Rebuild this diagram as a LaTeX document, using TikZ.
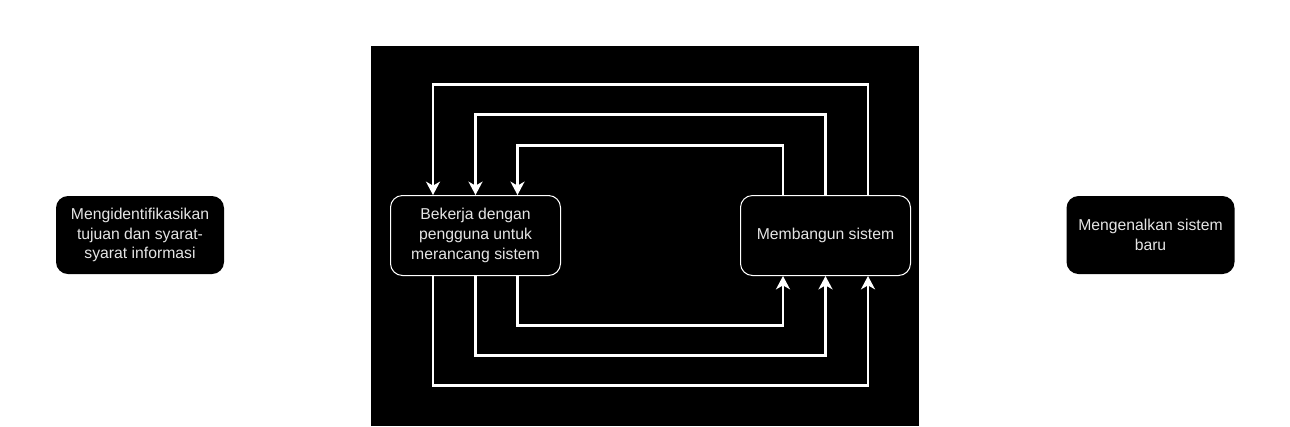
\documentclass[tikz,border=0pt]{standalone}
\usepackage{fontspec}
\setmainfont{Liberation Sans}
\usetikzlibrary{arrows.meta, positioning, calc}
\tikzset{>={Stealth[length=10pt,width=10.5pt,inset=3pt]}}
\tikzset{
  phase/.style={rectangle, rounded corners=9pt, fill=black, text=white!90!black,
    minimum width=126pt, minimum height=58.5pt, align=center,
    font=\fontsize{11.8}{14.8}\selectfont},
  stage/.style={phase, draw=white, line width=0.75pt, minimum width=127.5pt, minimum height=60pt},
  loop/.style={->, draw=white, line width=2pt}
}
\begin{document}
\begin{tikzpicture}[x=0.75pt, y=-0.75pt]
  \useasboundingbox[fill=white] (0,0) rectangle (1290,426);
  \fill[black] (371,46) rectangle (919,426);
  \node[phase] (ident) at (140,235) {Mengidentifikasikan\\tujuan dan syarat-\\syarat informasi};
  \node[stage] (kerja) at (475.5,235.5) {Bekerja dengan\\pengguna untuk\\merancang sistem};
  \node[stage] (bangun) at (825.5,235.5) {Membangun sistem};
  \node[phase] (kenal) at (1150.5,235) {Mengenalkan sistem\\baru};
  % back to design
  \draw[loop] ($(bangun.north)+(42.5,0)$) -- ++(0,-110.5) -| ($(kerja.north)+(-42.5,0)$);
  \draw[loop] (bangun.north) -- ++(0,-80.5) -| (kerja.north);
  \draw[loop] ($(bangun.north)+(-42.5,0)$) -- ++(0,-49.5) -| ($(kerja.north)+(42,0)$);
  % on to build
  \draw[loop] ($(kerja.south)+(-42.5,0)$) -- ++(0,109.5) -| ($(bangun.south)+(42.5,0)$);
  \draw[loop] (kerja.south) -- ++(0,79.5) -| (bangun.south);
  \draw[loop] ($(kerja.south)+(42,0)$) -- ++(0,49.5) -| ($(bangun.south)+(-42.5,0)$);
\end{tikzpicture}
\end{document}
